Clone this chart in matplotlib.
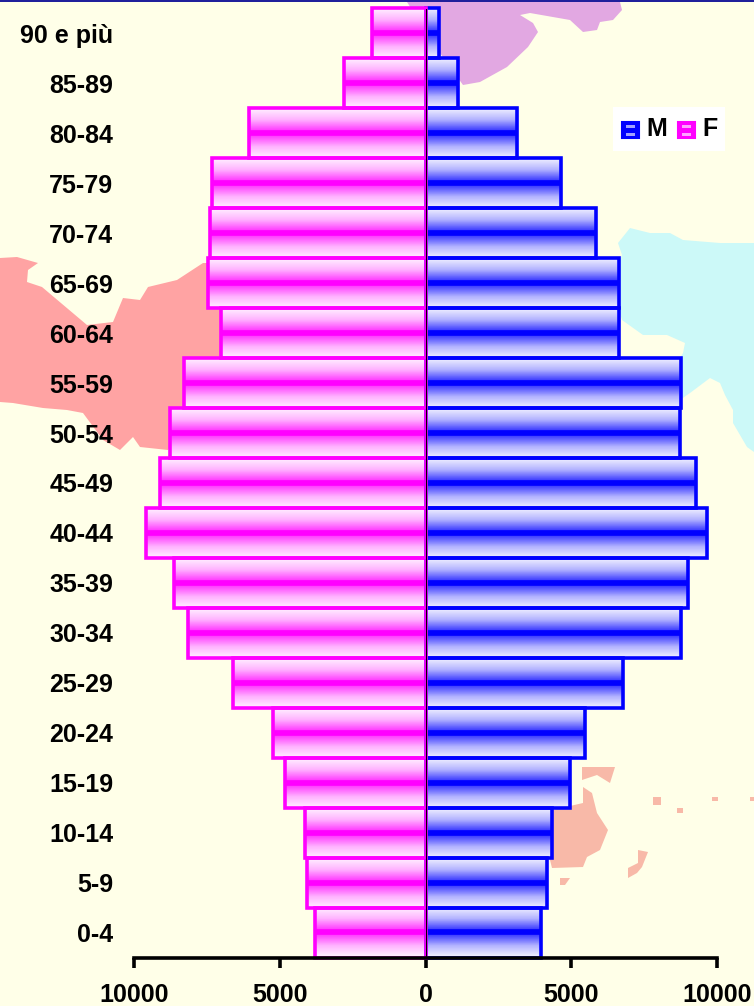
import numpy as np
import matplotlib
matplotlib.use('Agg')
import matplotlib.pyplot as plt
from matplotlib.colors import LinearSegmentedColormap
from matplotlib.patches import Polygon, Rectangle

W, H = 754, 1006

age_labels = ['0-4', '5-9', '10-14', '15-19', '20-24', '25-29', '30-34', '35-39', '40-44', '45-49',
              '50-54', '55-59', '60-64', '65-69', '70-74', '75-79', '80-84', '85-89', '90 e più']
males = [3970, 4170, 4340, 4960, 5480, 6790, 8750, 9000, 9650, 9270,
         8720, 8750, 6650, 6650, 5860, 4650, 3130, 1130, 480]
females = [3790, 4060, 4130, 4810, 5220, 6590, 8160, 8630, 9590, 9110,
           8770, 8290, 7000, 7470, 7400, 7340, 6040, 2800, 1840]
x_ticks = [-10000, -5000, 0, 5000, 10000]
x_tick_labels = ['10000', '5000', '0', '5000', '10000']

BG = '#FFFFE8'
BLUE = '#0000FF'
PINK = '#FF00FF'

# map shapes behind the chart, in image pixels
map_pink = [(0, 258), (17, 257), (38, 263), (28, 270), (27, 282), (42, 287), (87, 325), (113, 322), (123, 298),
            (140, 300), (148, 287), (177, 280), (203, 263), (215, 263), (230, 360), (190, 410), (168, 450),
            (140, 447), (133, 437), (120, 450), (103, 440), (83, 413), (67, 410), (43, 408), (13, 403), (0, 402)]
map_lilac = [(407, 2), (620, 2), (622, 10), (613, 20), (600, 22), (597, 30), (583, 32), (570, 20), (530, 13),
             (520, 15), (533, 23), (538, 32), (528, 47), (507, 67), (480, 82), (463, 85), (440, 53)]
map_cyan = [(630, 228), (650, 233), (670, 233), (683, 240), (720, 243), (754, 243), (754, 452), (747, 447),
            (733, 423), (733, 410), (725, 395), (720, 383), (710, 378), (690, 393), (680, 400), (680, 358),
            (683, 353), (685, 343), (667, 335), (643, 335), (622, 320), (610, 280), (622, 255), (618, 243)]
map_aus = [[(553, 810), (583, 803), (583, 787), (592, 793), (597, 813), (608, 830), (600, 850), (587, 857),
            (583, 867), (552, 868), (545, 840)],
           [(582, 767), (615, 767), (610, 783), (597, 775), (582, 780)],
           [(638, 850), (648, 852), (642, 867), (637, 873), (628, 878), (628, 868), (638, 863)],
           [(560, 878), (570, 878), (565, 885), (560, 885)],
           [(653, 797), (661, 797), (661, 805), (653, 805)],
           [(677, 808), (683, 808), (683, 813), (677, 813)],
           [(712, 797), (718, 797), (718, 801), (712, 801)],
           [(750, 797), (754, 797), (754, 801), (750, 801)]]


def bar_gradient(colour, mid, lower):
    pale = '#F0F0FF' if colour == BLUE else '#FFF0FF'
    cmap = LinearSegmentedColormap.from_list('g', [(0.0, pale), (0.22, mid), (0.43, lower), (0.45, colour),
                                                   (0.55, colour), (0.57, lower), (0.78, mid), (1.0, pale)])
    return cmap(np.linspace(0, 1, 50))[:, None, :3]


def draw_bar(ax, left, right, y, grad, colour):
    ax.imshow(grad, extent=(left, right, y - 0.5, y + 0.5), aspect='auto', zorder=2, interpolation='nearest')
    ax.add_patch(Rectangle((left, y - 0.5), right - left, 1, fill=False, edgecolor=colour, linewidth=2.6,
                           joinstyle='miter', zorder=3, clip_on=False))


plt.rcParams['font.family'] = ['Liberation Sans', 'DejaVu Sans']
plt.rcParams['font.weight'] = 'bold'

fig = plt.figure(figsize=(W / 100, H / 100), dpi=100, facecolor=BG)

# background layer in pixel coordinates
bg = fig.add_axes([0, 0, 1, 1], zorder=0)
bg.set_xlim(0, W)
bg.set_ylim(H, 0)
bg.axis('off')
bg.add_patch(Polygon(map_pink, facecolor='#FFA3A3', edgecolor='none'))
bg.add_patch(Polygon(map_lilac, facecolor='#E2A8E2', edgecolor='none'))
bg.add_patch(Polygon(map_cyan, facecolor='#CCF9F8', edgecolor='none'))
for shape in map_aus:
    bg.add_patch(Polygon(shape, facecolor='#F8B9A8', edgecolor='none'))
bg.plot([0, W], [1, 1], color='#1A1A9A', linewidth=1.4)

ax = fig.add_axes([134 / W, 1 - 957.5 / H, (717 - 134) / W, (957.5 - 8.5) / H], zorder=1)
ax.patch.set_alpha(0)

blue_grad = bar_gradient(BLUE, '#B4B4FF', '#4444FF')
pink_grad = bar_gradient(PINK, '#FFB4FF', '#FF44FF')
ys = np.arange(len(age_labels))
for y, m, f in zip(ys, males, females):
    draw_bar(ax, 0, m, y, blue_grad, BLUE)
    draw_bar(ax, -f, 0, y, pink_grad, PINK)

ax.axvline(0, color='black', linewidth=0.8, zorder=4)
ax.set_xlim(-10000, 10000)
ax.set_ylim(-0.5, len(age_labels) - 0.5)
ax.set_xticks(x_ticks)
ax.set_xticklabels(x_tick_labels, fontsize=18, fontweight='bold')
ax.set_yticks(ys)
ax.set_yticklabels(age_labels, fontsize=18, fontweight='bold')
ax.tick_params(axis='x', length=7.5, width=2.6, pad=11, color='black')
ax.tick_params(axis='y', length=0, pad=15)
for side in ['top', 'left', 'right']:
    ax.spines[side].set_visible(False)
ax.spines['bottom'].set_linewidth(2.6)
ax.spines['bottom'].set_zorder(5)

# legend box
lg = fig.add_axes([0, 0, 1, 1], zorder=2)
lg.set_xlim(0, W)
lg.set_ylim(H, 0)
lg.axis('off')
lg.add_patch(Rectangle((613, 107), 112, 44, facecolor='white', edgecolor='none'))
for x0, colour, stripe, name, tx in [(622, BLUE, '#A0A0FF', 'M', 646), (678, PINK, '#FFA0FF', 'F', 702)]:
    lg.add_patch(Rectangle((x0, 122), 17, 16, facecolor=colour, edgecolor=colour, linewidth=1.5))
    lg.add_patch(Rectangle((x0 + 4, 125), 9, 3, facecolor=stripe, edgecolor='none'))
    lg.add_patch(Rectangle((x0 + 4, 133), 9, 3, facecolor=stripe, edgecolor='none'))
    lg.text(tx, 129, name, fontsize=18, fontweight='bold', va='center', ha='left', color='black')

fig.savefig('out.png', dpi=100, facecolor=BG)
